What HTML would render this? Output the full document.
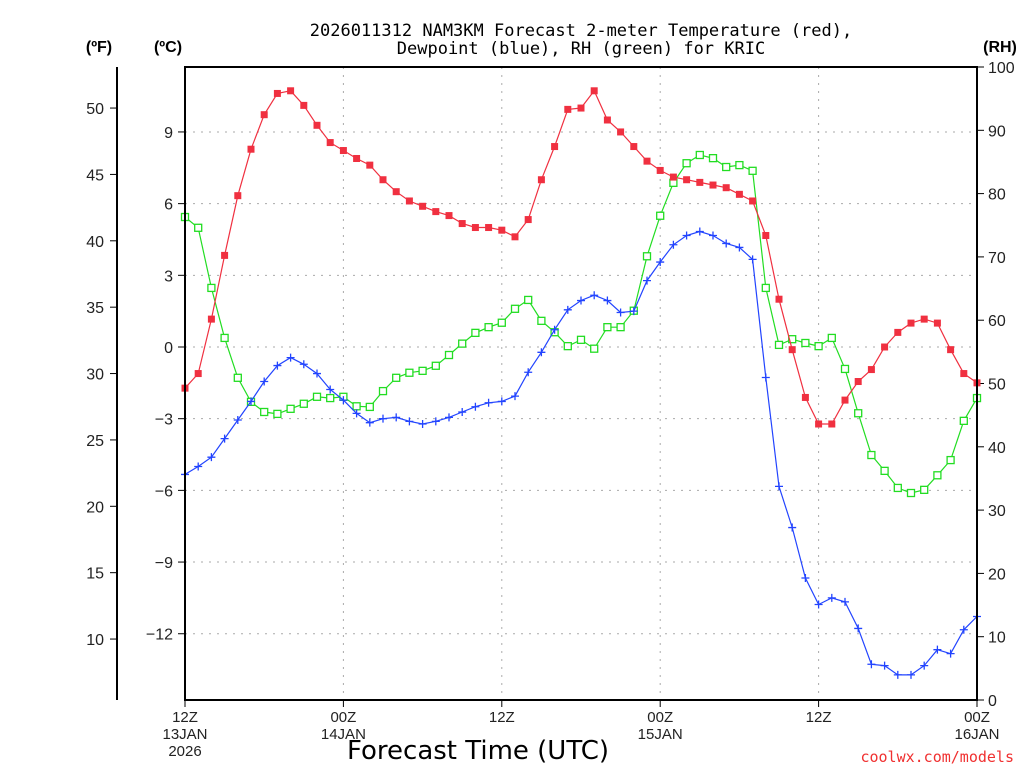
<!DOCTYPE html>
<html><head><meta charset="utf-8"><style>
body{margin:0;background:#fff;}
svg{display:block;font-family:"Liberation Sans",sans-serif;}
</style></head><body>
<svg id="chart" width="1024" height="768" xmlns="http://www.w3.org/2000/svg">
<text x="581" y="36" text-anchor="middle" font-size="17" font-family="DejaVu Sans Mono, Liberation Mono, monospace">2026011312 NAM3KM Forecast 2-meter Temperature (red),</text>
<text x="581" y="54" text-anchor="middle" font-size="17" font-family="DejaVu Sans Mono, Liberation Mono, monospace">Dewpoint (blue), RH (green) for KRIC</text>
<text x="99" y="52" text-anchor="middle" font-size="16" font-weight="bold">(ºF)</text>
<text x="168" y="52" text-anchor="middle" font-size="16" font-weight="bold">(ºC)</text>
<text x="1000" y="52" text-anchor="middle" font-size="16" font-weight="bold">(RH)</text>
<text x="478" y="759" text-anchor="middle" font-size="26" font-family="DejaVu Sans, sans-serif">Forecast Time (UTC)</text>
<text x="1014" y="762" text-anchor="end" font-size="15" fill="#f03030" font-family="DejaVu Sans Mono, monospace">coolwx.com/models</text>
<g id="grid"></g><g id="axes"></g><g id="series"></g>
<rect x="185" y="67" width="792" height="633" fill="none" stroke="#000" stroke-width="2"/>
</svg>
<script>
const hours=[];for(let i=0;i<=60;i++)hours.push(i);
const tempF=[28.9,30.0,34.1,38.9,43.4,46.9,49.5,51.1,51.3,50.2,48.7,47.4,46.8,46.2,45.7,44.6,43.7,43.0,42.6,42.2,41.9,41.3,41.0,41.0,40.8,40.3,41.6,44.6,47.1,49.9,50.0,51.3,49.1,48.2,47.1,46.0,45.3,44.8,44.6,44.4,44.2,44.0,43.5,43.0,40.4,35.6,31.8,28.2,26.2,26.2,28.0,29.4,30.3,32.0,33.1,33.8,34.1,33.8,31.8,30.0,29.3];
const dewF=[22.4,23.0,23.7,25.1,26.5,27.9,29.4,30.6,31.2,30.7,30.0,28.8,28.0,27.0,26.3,26.6,26.7,26.4,26.2,26.4,26.7,27.1,27.5,27.8,27.9,28.3,30.1,31.6,33.3,34.8,35.5,35.9,35.5,34.6,34.7,37.0,38.4,39.7,40.4,40.7,40.4,39.8,39.5,38.6,29.7,21.5,18.4,14.6,12.6,13.1,12.8,10.8,8.1,8.0,7.3,7.3,8.0,9.2,8.9,10.7,11.7];
const rh=[76.3,74.6,65.1,57.2,50.9,47.1,45.5,45.2,46.0,46.8,47.9,47.7,47.9,46.4,46.3,48.8,50.9,51.7,52.0,52.8,54.5,56.3,58.0,58.9,59.6,61.8,63.2,59.9,58.1,55.9,56.9,55.5,58.9,58.9,61.5,70.1,76.5,81.7,84.8,86.1,85.6,84.2,84.5,83.6,65.1,56.1,57.0,56.4,55.9,57.2,52.3,45.3,38.7,36.2,33.5,32.7,33.2,35.5,37.9,44.1,47.7];
const fTicks=[10,15,20,25,30,35,40,45,50];
const cTicks=[-12,-9,-6,-3,0,3,6,9];
const rhTicks=[0,10,20,30,40,50,60,70,80,90,100];
const xTickHours=[0,12,24,36,48,60];
const xTickLabels=[["12Z","13JAN","2026"],["00Z","14JAN"],["12Z"],["00Z","15JAN"],["12Z"],["00Z","16JAN"]];
const NS="http://www.w3.org/2000/svg";
const X=h=>185+h*13.2;
const YF=f=>347-(f-32)*13.275;
const YC=c=>YF(c*1.8+32);
const YR=r=>700-r*6.33;
function mk(tag,attrs,parent,txt){const e=document.createElementNS(NS,tag);for(const k in attrs)e.setAttribute(k,attrs[k]);if(txt!==undefined)e.textContent=txt;parent.appendChild(e);return e;}
const grid=document.getElementById('grid'),axes=document.getElementById('axes'),ser=document.getElementById('series');
cTicks.forEach(c=>{const y=YC(c);
 const g=mk('line',{x1:185,x2:977,y1:y,y2:y,stroke:'#aaa','stroke-dasharray':'2,6'},grid);
 
 const t=mk('line',{x1:178,x2:185,y1:y,y2:y,stroke:'#000'},axes);
 
 const l=mk('text',{x:173,y:y+6,'text-anchor':'end','font-size':16,fill:'#222'},axes,c<0?'\u2212'+(-c):String(c));
 });
xTickHours.forEach((h,i)=>{const x=X(h);
 if(h>0&&h<60){const g=mk('line',{x1:x,x2:x,y1:67,y2:700,stroke:'#aaa','stroke-dasharray':'2,6'},grid);
 }
 const t=mk('line',{x1:x,x2:x,y1:700,y2:707,stroke:'#000'},axes);
 
 xTickLabels[i].forEach((s,j)=>{const l=mk('text',{x:x,y:722+j*17,'text-anchor':'middle','font-size':15,fill:'#222'},axes,s);
 });});
const fl=mk('line',{x1:117,x2:117,y1:67,y2:700,stroke:'#000','stroke-width':2},axes);

fTicks.forEach(f=>{const y=YF(f);
 const t=mk('line',{x1:110,x2:117,y1:y,y2:y,stroke:'#000'},axes);
 
 const l=mk('text',{x:104,y:y+6,'text-anchor':'end','font-size':16,fill:'#222'},axes,String(f));
 });
rhTicks.forEach(r=>{const y=YR(r);
 const t=mk('line',{x1:977,x2:984,y1:y,y2:y,stroke:'#000'},axes);
 
 const l=mk('text',{x:988,y:y+6,'font-size':16,fill:'#222'},axes,String(r));
 });
function series(vals,yf,color,kind,name){
 const g=mk('g',{},ser);
 
 const pts=vals.map((v,i)=>X(hours[i]).toFixed(1)+','+yf(v).toFixed(1)).join(' ');
 const pl=mk('polyline',{points:pts,fill:'none',stroke:color,'stroke-width':1.2},g);
 
 vals.forEach((v,i)=>{const x=X(hours[i]),y=yf(v);let m;
  if(kind==='fill')m=mk('rect',{x:x-3.5,y:y-3.5,width:7,height:7,fill:color},g);
  else if(kind==='open')m=mk('rect',{x:x-3.5,y:y-3.5,width:7,height:7,fill:'#fff',stroke:color,'stroke-width':1.3},g);
  else m=mk('path',{d:`M${x-4} ${y}H${x+4}M${x} ${y-4}V${y+4}`,stroke:color,'stroke-width':1.3},g);
  });}
series(rh,YR,'#22dd22','open','rh');
series(dewF,YF,'#2244ff','plus','dewpoint');
series(tempF,YF,'#f03040','fill','temperature');
</script>
</body></html>
